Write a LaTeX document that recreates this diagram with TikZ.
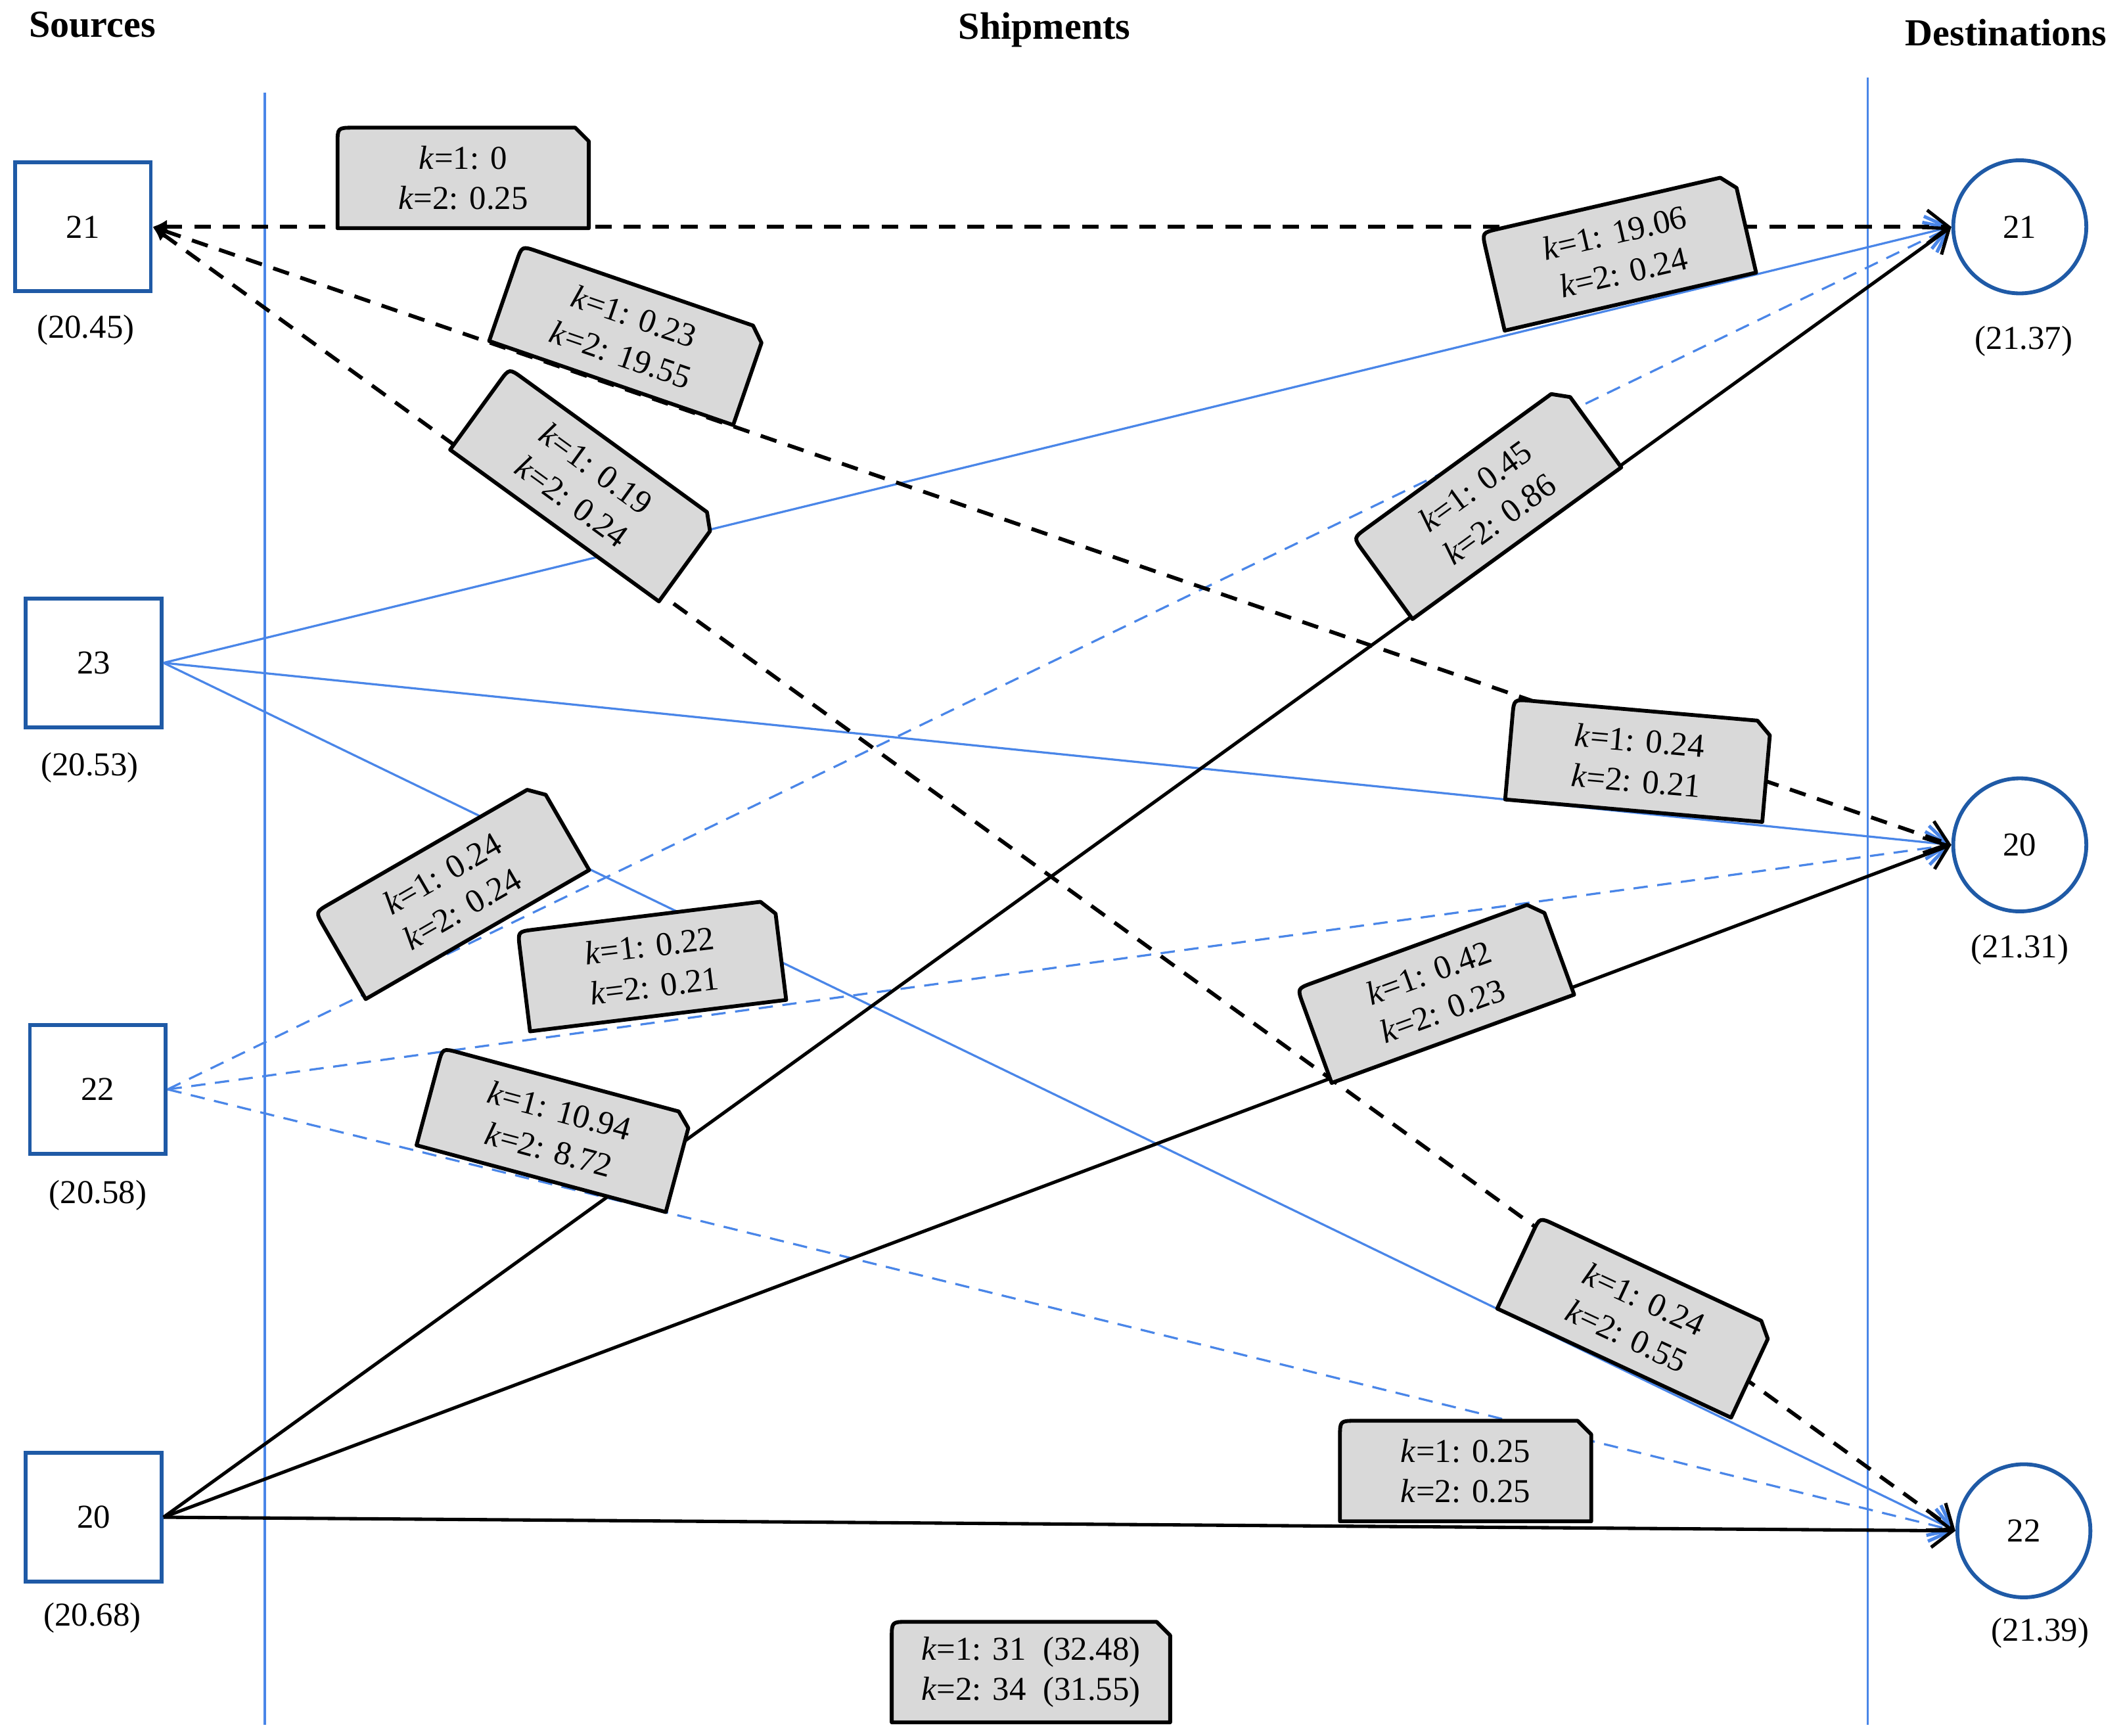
\documentclass[tikz,border=0pt]{standalone}
\usepackage{fontspec}
\setmainfont{Liberation Serif}
\usetikzlibrary{arrows.meta}
\definecolor{lb}{HTML}{4A86E8}
\definecolor{db}{HTML}{1F5AA6}
\definecolor{bx}{HTML}{D9D9D9}
\tikzset{
 src/.style={draw=db,line width=1.6pt,minimum width=2cm,minimum height=1.9cm,font=\fontsize{14}{17}\selectfont},
 dst/.style={draw=db,line width=1.6pt,circle,minimum size=1.96cm,font=\fontsize{14}{17}\selectfont},
 val/.style={font=\fontsize{14}{17}\selectfont},
 ttl/.style={font=\bfseries\fontsize{16}{19}\selectfont},
 tip/.style={-{Straight Barb[length=9pt,width=14pt,line width=1.4pt]}},
 bd/.style={black,dashed,line width=1.6pt,dash pattern=on 7pt off 5pt,tip},
 bs/.style={black,line width=1.4pt,tip},
 ls/.style={lb,line width=0.9pt,tip},
 ld/.style={lb,line width=0.9pt,dash pattern=on 6pt off 4pt,tip},
 vl/.style={lb,line width=0.9pt},
 bxs/.style={fill=bx,draw=black,line width=1.6pt,line join=round}
}
\newcommand{\kk}{\textit{k}}
\newcommand{\lab}[7]{%
 \begin{scope}[shift={(#2,#3)},rotate=#4]
  \draw[bxs] (-#5/2,37) -- (-#5/2,-25) .. controls (-#5/2,-37) .. (-#5/2+12,-37) -- (#5/2-10,-37) -- (#5/2,-27) -- (#5/2,37) -- cycle;
  \node[transform shape,align=center,val] (#1) at (0,0) {#6\\#7};
 \end{scope}}
\begin{document}
\begin{tikzpicture}[x=0.02cm,y=-0.02cm]
\useasboundingbox (0,0) rectangle (1563,1278);
\node[ttl] (ts) at (68,18) {Sources};
\node[ttl] (tm) at (769,22) {Shipments};
\node[ttl] (td) at (1477,24) {Destinations};
\coordinate (v1a) at (195,68); \coordinate (v1b) at (195,1270);
\coordinate (v2a) at (1375,57); \coordinate (v2b) at (1375,1270);
\draw[vl] (v1a) -- (v1b); \draw[vl] (v2a) -- (v2b);
\node[src] (s21) at (61,167) {21};
\node[src] (s23) at (69,488) {23};
\node[src] (s22) at (72,802) {22};
\node[src] (s20) at (69,1117) {20};
\node[val] (p21) at (63,243) {(20.45)};
\node[val] (p23) at (66,565) {(20.53)};
\node[val] (p22) at (72,880) {(20.58)};
\node[val] (p20) at (68,1191) {(20.68)};
\node[dst] (d21) at (1487,167) {21};
\node[dst] (d20) at (1487,622) {20};
\node[dst] (d22) at (1490,1127) {22};
\node[val] (q21) at (1490,251) {(21.37)};
\node[val] (q20) at (1487,699) {(21.31)};
\node[val] (q22) at (1502,1202) {(21.39)};
% edges
\draw[ls] (s23.east) -- (d21.west);
\draw[ls] (s23.east) -- (d20.west);
\draw[ls] (s23.east) -- (d22.west);
\draw[ld] (s22.east) -- (d21.west);
\draw[ld] (s22.east) -- (d20.west);
\draw[ld] (s22.east) -- (d22.west);
\draw[bs] (s20.east) -- (d21.west);
\draw[bs] (s20.east) -- (d20.west);
\draw[bs] (s20.east) -- (d22.west);
\draw[bd,{Latex[length=6pt,width=6pt]}-{Straight Barb[length=9pt,width=14pt,line width=1.4pt]}] (s21.east) -- (d21.west);
\draw[bd,{Latex[length=6pt,width=6pt]}-{Straight Barb[length=9pt,width=14pt,line width=1.4pt]}] (s21.east) -- (d20.west);
\draw[bd,{Latex[length=6pt,width=6pt]}-{Straight Barb[length=9pt,width=14pt,line width=1.4pt]}] (s21.east) -- (d22.west);
% labels
\lab{l1}{341}{131}{0}{185}{\kk=1: 0}{\kk=2: 0.25}
\lab{l2}{462}{247}{-19}{190}{\kk=1: 0.23}{\kk=2: 19.55}
\lab{l3}{430}{357}{-36}{190}{\kk=1: 0.19}{\kk=2: 0.24}
\lab{l4}{1192}{186}{13}{190}{\kk=1: 19.06}{\kk=2: 0.24}
\lab{l5}{1095}{370}{36}{190}{\kk=1: 0.45}{\kk=2: 0.86}
\lab{l6}{1206}{560}{-5}{190}{\kk=1: 0.24}{\kk=2: 0.21}
\lab{l7}{333}{656}{30}{190}{\kk=1: 0.24}{\kk=2: 0.24}
\lab{l8}{480}{711}{7}{190}{\kk=1: 0.22}{\kk=2: 0.21}
\lab{l9}{1057}{730}{20}{190}{\kk=1: 0.42}{\kk=2: 0.23}
\lab{l10}{408}{832}{-15}{190}{\kk=1: 10.94}{\kk=2: 8.72}
\lab{l11}{1204}{970}{-25}{190}{\kk=1: 0.24}{\kk=2: 0.55}
\lab{l12}{1079}{1083}{0}{185}{\kk=1: 0.25}{\kk=2: 0.25}
\lab{l13}{759}{1231}{0}{205}{\kk=1: 31~~(32.48)}{\kk=2: 34~~(31.55)}
\end{tikzpicture}
\end{document}
